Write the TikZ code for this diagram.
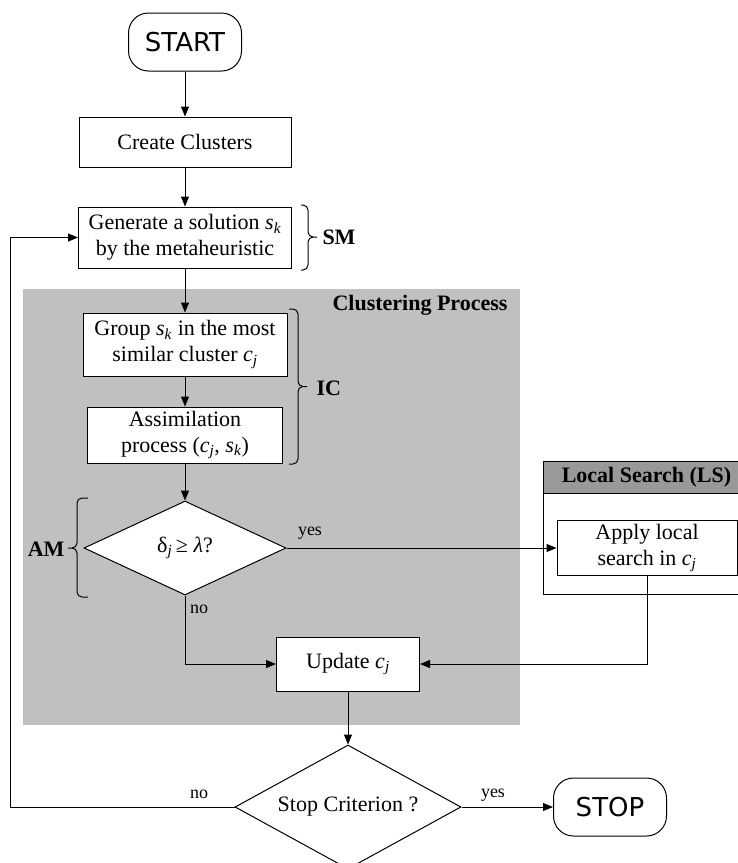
\documentclass[tikz,border=0pt]{standalone}
\usepackage{fontspec}
\setmainfont{Liberation Serif}
\newfontfamily\termfont{DejaVu Sans}
\usetikzlibrary{arrows.meta,shapes.geometric}
\definecolor{cpgray}{RGB}{192,192,192}
\definecolor{lsgray}{RGB}{153,153,153}
\newcommand\sv[2]{\textit{#1}\textsubscript{\textit{#2}}}
\begin{document}
\begin{tikzpicture}[x=1pt,y=-1pt, line width=1pt,
  box/.style={draw, fill=white, align=center, inner sep=0pt, font=\fontsize{22}{26}\selectfont},
  term/.style={draw, fill=white, rounded corners=20pt, inner sep=0pt, minimum width=113, minimum height=58, font=\termfont\fontsize{26}{30}\selectfont},
  decision/.style={draw, fill=white, diamond, inner sep=0pt, font=\fontsize{22}{26}\selectfont},
  arr/.style={-{Triangle[length=10pt,width=8pt]}},
  lbl/.style={font=\fontsize{18}{20}\selectfont, inner sep=0pt},
  blbl/.style={font=\bfseries\fontsize{22}{26}\selectfont, inner sep=0pt},
  brc/.style={rounded corners=5pt},
]
\useasboundingbox (0,0) rectangle (738,863);
\clip (0,0) rectangle (738,863);

% Clustering process background
\node[fill=cpgray, minimum width=497, minimum height=436, inner sep=0pt] (cpbg) at (271.5,507) {};
\node[blbl] (cplabel) at (420,305) {Clustering Process};

% Local search container
\node[draw, fill=white, minimum width=207, minimum height=133, inner sep=0pt] (lsbox) at (646.5,527.5) {};
\node[draw, fill=lsgray, minimum width=207, minimum height=32, inner sep=0pt, anchor=north, blbl] (lshead) at (lsbox.north) {Local Search (LS)};

% Nodes
\node[term] (start) at (185,42) {START};
\node[box, minimum width=212, minimum height=50] (cc) at (185,142) {Create Clusters};
\node[box, minimum width=213, minimum height=61] (gen) at (185,237.5) {Generate a solution \sv{s}{k}\\by the metaheuristic};
\node[box, minimum width=204, minimum height=63] (grp) at (185,344.5) {Group \sv{s}{k} in the most\\similar cluster \sv{c}{j}};
\node[box, minimum width=195, minimum height=56] (asm) at (185,435) {Assimilation\\process (\sv{c}{j}, \sv{s}{k})};
\node[decision, minimum width=202, minimum height=94, aspect=2.15] (d1) at (185,548) {δ\textsubscript{\textit{j}}\,≥ \textit{λ}?};
\node[box, minimum width=180, minimum height=55] (apply) at (647,548) {Apply local\\search in \sv{c}{j}};
\node[box, minimum width=143, minimum height=54] (upd) at (348,664) {Update \sv{c}{j}};
\node[decision, minimum width=226, minimum height=124, aspect=1.82] (d2) at (348,807) {Stop Criterion ?};
\node[term] (stop) at (610,807) {STOP};
\coordinate (lp) at (10,807);

% Connectors
\draw[arr] (start) -- (cc);
\draw[arr] (cc) -- (gen);
\draw[arr] (gen) -- (grp);
\draw[arr] (grp) -- (asm);
\draw[arr] (asm) -- (d1);
\draw[arr] (d1.east) -- (apply.west);
\draw[arr] (d1.south) |- (upd.west);
\draw[arr] (apply.south) |- (upd.east);
\draw[arr] (upd) -- (d2);
\draw[arr] (d2.east) -- (stop.west);
\draw[arr] (d2.west) -- (lp) |- (gen.west);

% Edge labels
\node[lbl] (yes1) at (310,533) {yes};
\node[lbl] (no1) at (199,609) {no};
\node[lbl] (yes2) at (493,795) {yes};
\node[lbl] (no2) at (199,794) {no};

% Braces
\draw[brc] (301,205) -- (308,205) -- (308,237) -- (317,237);
\draw[brc] (301,270) -- (308,270) -- (308,237) -- (313,237);
\node[blbl, anchor=west] (sm) at (322,237) {SM};
\draw[brc] (289,309) -- (298,309) -- (298,386.5) -- (307,386.5);
\draw[brc] (289,464) -- (298,464) -- (298,386.5) -- (303,386.5);
\node[blbl, anchor=west] (ic) at (316,388) {IC};
\draw[brc] (88,498) -- (77,498) -- (77,548) -- (68,548);
\draw[brc] (88,597) -- (77,597) -- (77,548) -- (72,548);
\node[blbl, anchor=east] (am) at (65,549) {AM};
\end{tikzpicture}
\end{document}
